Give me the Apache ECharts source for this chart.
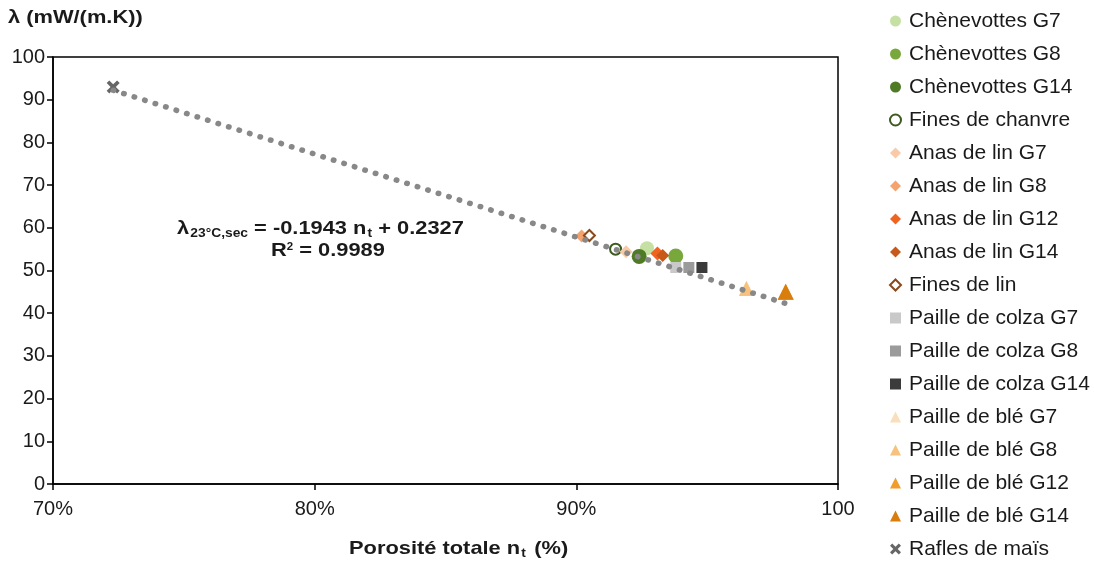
<!DOCTYPE html>
<html>
<head>
<meta charset="utf-8">
<script src="https://cdn.jsdelivr.net/npm/echarts@6/dist/echarts.min.js"></script>
<style>
html,body{margin:0;padding:0;background:#fff;}
#chart{width:1094px;height:563px;}
</style>
</head>
<body>
<div id="chart"></div>
<script>
// ---- Data ----
const seriesNames = [
  'Chènevottes G7','Chènevottes G8','Chènevottes G14','Fines de chanvre',
  'Anas de lin G7','Anas de lin G8','Anas de lin G12','Anas de lin G14','Fines de lin',
  'Paille de colza G7','Paille de colza G8','Paille de colza G14',
  'Paille de blé G7','Paille de blé G8','Paille de blé G12','Paille de blé G14',
  'Rafles de maïs'
];
const porosity = [92.7, 93.8, 92.4, 91.5, 91.9, 90.2, 93.1, 93.3, 90.5, 93.8, 94.3, 94.8, 96.5, 96.5, 98.0, 98.0, 72.3];
const conductivity = [55.2, 53.4, 53.3, 55.0, 54.4, 58.1, 54.0, 53.5, 58.2, 50.7, 50.7, 50.7, 45.8, 45.8, 45.0, 45.0, 93.0];
const xTicks = [70, 80, 90, 100];
const xTickLabels = ['70%', '80%', '90%', '100'];
const yTicks = [0, 10, 20, 30, 40, 50, 60, 70, 80, 90, 100];
// trendline from the stated equation: lambda = slope*n + intercept (W/(m.K), n fraction)
const trendSlope = -0.1943;
const trendIntercept = 0.2327;
const trendRange = [72.3, 98.0];

// ---- Styles ----
const XPATH = 'path://M0,2 L2,0 L5,3 L8,0 L10,2 L7,5 L10,8 L8,10 L5,7 L2,10 L0,8 L3,5 Z';
const styles = [
  {c:'#c6e0a4', s:'circle', z:14},
  {c:'#78a83b', s:'circle', z:15},
  {c:'#4f7a26', s:'circle', z:15},
  {c:'#ffffff', b:'#3d5a20', s:'circle', z:11},
  {c:'#f8caa8', s:'diamond', z:13},
  {c:'#f4a36e', s:'diamond', z:13},
  {c:'#ef6420', s:'diamond', z:14},
  {c:'#c8571a', s:'diamond', z:13},
  {c:'#ffffff', b:'#8a4a1c', s:'diamond', z:11},
  {c:'#c9c9c9', s:'rect', z:11},
  {c:'#9b9b9b', s:'rect', z:11},
  {c:'#3b3b3b', s:'rect', z:11},
  {c:'#fbdfbd', s:'triangle', z:15},
  {c:'#f8c27c', s:'triangle', z:15},
  {c:'#f19d2c', s:'triangle', z:16},
  {c:'#d97d0c', s:'triangle', z:16},
  {c:'#666666', s:XPATH, z:13}
];

const FONT = '"Liberation Sans", Arial, sans-serif';
const TXT = '#1a1a1a';
const series = seriesNames.map((name, i) => {
  const st = styles[i];
  return {
    name: name,
    type: 'scatter',
    symbol: st.s,
    symbolSize: st.z,
    itemStyle: st.b ? {color: st.c, borderColor: st.b, borderWidth: 2, opacity: 1} : {color: st.c, opacity: 1},
    data: [[porosity[i], conductivity[i]]],
    z: 3
  };
});
series.push({
  name: 'trend',
  type: 'line',
  showSymbol: false,
  symbol: 'none',
  data: trendRange.map(n => [n, (trendSlope * n / 100 + trendIntercept) * 1000]),
  lineStyle: {color: '#888888', width: 5.5, type: [0.5, 10.5], cap: 'round'},
  z: 4,
  silent: true
});

const chart = echarts.init(document.getElementById('chart'));
chart.setOption({
  animation: false,
  backgroundColor: '#ffffff',
  textStyle: {fontFamily: FONT},
  grid: {left: 53, right: 256, top: 57, bottom: 79, show: true, borderColor: '#000', borderWidth: 1.5, backgroundColor: 'transparent'},
  xAxis: {
    type: 'value', min: 70, max: 100, interval: 10,
    axisLine: {show: true, lineStyle: {color: '#000', width: 1.5}},
    axisTick: {show: true, length: 6, inside: false, lineStyle: {color: '#000', width: 1.5}},
    splitLine: {show: false},
    axisLabel: {
      color: TXT, fontSize: 20, margin: 15, fontFamily: FONT,
      formatter: v => { const k = xTicks.indexOf(v); return k >= 0 ? xTickLabels[k] : ''; }
    }
  },
  yAxis: {
    type: 'value', min: 0, max: 100, interval: 10,
    axisLine: {show: true, lineStyle: {color: '#000', width: 1.5}},
    axisTick: {show: true, length: 6, inside: false, lineStyle: {color: '#000', width: 1.5}},
    splitLine: {show: false},
    axisLabel: {color: TXT, fontSize: 20, margin: 8, fontFamily: FONT,
      formatter: v => yTicks.indexOf(v) >= 0 ? String(v) : ''}
  },
  legend: {
    orient: 'vertical', left: 889, top: 10, height: 553, padding: 0,
    data: seriesNames,
    itemWidth: 11, itemHeight: 11, itemGap: 11,
    textStyle: {fontSize: 21, color: TXT, lineHeight: 22, fontFamily: FONT, padding: [0, 0, 0, 3]},
    selectedMode: false
  },
  graphic: [
    {type: 'text', x: 8, y: 8, scaleX: 1.15, style: {text: 'λ (mW/(m.K))', font: 'bold 19px ' + FONT, fill: TXT, textAlign: 'left', textVerticalAlign: 'top'}},
    {type: 'text', x: 349, y: 538, scaleX: 1.15, style: {
      text: '{a|Porosité totale n}{s|t}{a| (%)}', textAlign: 'left', textVerticalAlign: 'top',
      rich: {
        a: {fontSize: 19, fontWeight: 'bold', fontFamily: FONT, fill: TXT, lineHeight: 22},
        s: {fontSize: 12, fontWeight: 'bold', fontFamily: FONT, fill: TXT, lineHeight: 22, padding: [9, 2, 0, 1]}
      }}},
    {type: 'text', x: 177, y: 218, scaleX: 1.15, style: {
      text: '{a|λ}{s|23°C,sec}{a| = -0.1943 n}{s|t}{a| + 0.2327}', textAlign: 'left', textVerticalAlign: 'top',
      rich: {
        a: {fontSize: 19, fontWeight: 'bold', fontFamily: FONT, fill: TXT, lineHeight: 22},
        s: {fontSize: 12, fontWeight: 'bold', fontFamily: FONT, fill: TXT, lineHeight: 22, padding: [9, 0, 0, 1]}
      }}},
    {type: 'text', x: 271, y: 240, scaleX: 1.15, style: {
      text: '{a|R}{p|2}{a| = 0.9989}', textAlign: 'left', textVerticalAlign: 'top',
      rich: {
        a: {fontSize: 19, fontWeight: 'bold', fontFamily: FONT, fill: TXT, lineHeight: 22},
        p: {fontSize: 10, fontWeight: 'bold', fontFamily: FONT, fill: TXT, lineHeight: 22, padding: [0, 0, 8, 0]}
      }}}
  ],
  series: series
});
</script>
</body>
</html>
